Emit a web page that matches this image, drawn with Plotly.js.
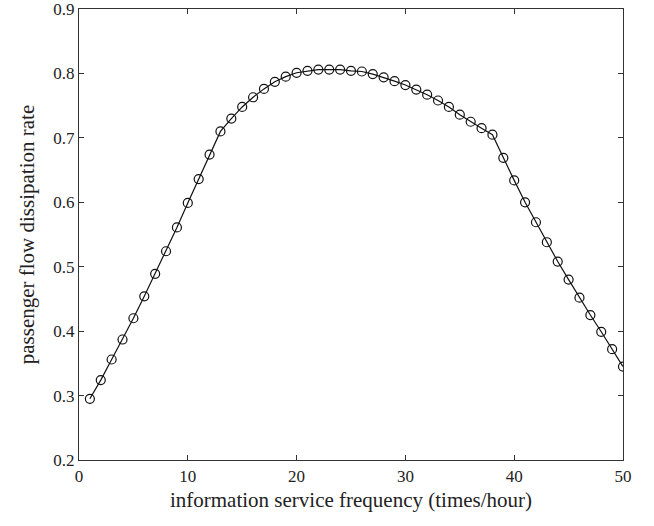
<!DOCTYPE html>
<html>
<head>
<meta charset="utf-8">
<script src="https://cdn.plot.ly/plotly-3.0.1.min.js"></script>
<style>html,body{margin:0;padding:0;background:#fff;}#chart{width:654px;height:526px;}</style>
</head>
<body>
<div id="chart"></div>
<script>
const frequency = [1,2,3,4,5,6,7,8,9,10,11,12,13,14,15,16,17,18,19,20,21,22,23,24,25,26,27,28,29,30,31,32,33,34,35,36,37,38,39,40,41,42,43,44,45,46,47,48,49,50];
const dissipationRate = [0.295,0.324,0.356,0.387,0.420,0.454,0.489,0.524,0.561,0.599,
  0.636,0.674,0.710,0.730,0.748,0.763,0.776,0.787,0.795,0.801,
  0.804,0.806,0.806,0.806,0.804,0.803,0.799,0.794,0.788,0.782,
  0.775,0.767,0.758,0.748,0.736,0.725,0.715,0.705,0.669,0.634,
  0.600,0.569,0.538,0.508,0.480,0.452,0.425,0.399,0.372,0.345];
const xTicks = [0,10,20,30,40,50];
const yTicks = [0.2,0.3,0.4,0.5,0.6,0.7,0.8,0.9];

const tickFont = {family: 'Liberation Serif, Times New Roman, serif', size: 17, color: '#222'};
const titleFont = {family: 'Liberation Serif, Times New Roman, serif', size: 21, color: '#222'};

Plotly.newPlot('chart', [{
  x: frequency, y: dissipationRate, type: 'scatter', mode: 'lines+markers',
  line: {color: '#111', width: 1.2},
  marker: {symbol: 'circle-open', size: 9, color: '#111', line: {width: 1.2}},
  showlegend: false
}], {
  width: 654, height: 526,
  margin: {l: 79, r: 31, t: 9, b: 66},
  paper_bgcolor: '#fff', plot_bgcolor: '#fff',
  font: tickFont,
  xaxis: {
    range: [0, 50], tickvals: xTicks, ticktext: xTicks.map(String), tickfont: tickFont,
    ticks: 'inside', ticklen: 5, tickcolor: '#333', showline: true, linecolor: '#333', linewidth: 1.2,
    mirror: 'ticks', showgrid: false, zeroline: false, ticklabeloverflow: 'allow',
    title: {text: 'information service frequency (times/hour)', font: titleFont, standoff: 7}
  },
  yaxis: {
    range: [0.2, 0.9], tickvals: yTicks, ticktext: yTicks.map(v => v.toFixed(1)), tickfont: tickFont,
    ticks: 'inside', ticklen: 5, tickcolor: '#333', showline: true, linecolor: '#333', linewidth: 1.2,
    mirror: 'ticks', showgrid: false, zeroline: false, ticklabeloverflow: 'allow',
    title: {text: 'passenger flow dissipation rate', font: titleFont, standoff: 12}
  }
}, {displayModeBar: false, staticPlot: true});
</script>
</body>
</html>
